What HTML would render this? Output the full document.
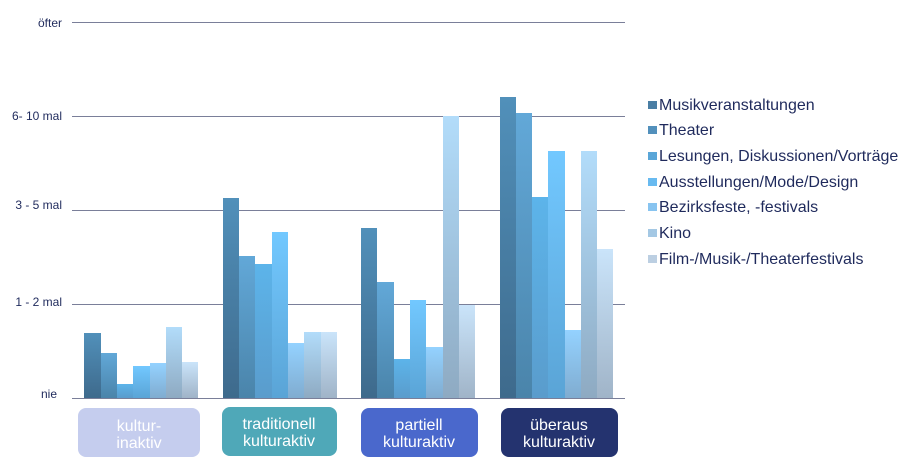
<!DOCTYPE html>
<html><head><meta charset="utf-8"><style>
body{margin:0;background:#fff;}
svg{display:block;font-family:"Liberation Sans",sans-serif;}
</style></head><body>
<svg width="907" height="465" viewBox="0 0 907 465">
<defs>
<linearGradient id="g1" x1="0" y1="0" x2="0" y2="1"><stop offset="0" stop-color="#5190ba"/><stop offset="1" stop-color="#3e6a8c"/></linearGradient>
<linearGradient id="g2" x1="0" y1="0" x2="0" y2="1"><stop offset="0" stop-color="#62a8d8"/><stop offset="1" stop-color="#4a84aa"/></linearGradient>
<linearGradient id="g3" x1="0" y1="0" x2="0" y2="1"><stop offset="0" stop-color="#5cb4ea"/><stop offset="1" stop-color="#5a9ccc"/></linearGradient>
<linearGradient id="g4" x1="0" y1="0" x2="0" y2="1"><stop offset="0" stop-color="#72c8ff"/><stop offset="1" stop-color="#5aa4d6"/></linearGradient>
<linearGradient id="g5" x1="0" y1="0" x2="0" y2="1"><stop offset="0" stop-color="#94d2ff"/><stop offset="1" stop-color="#80acd0"/></linearGradient>
<linearGradient id="g6" x1="0" y1="0" x2="0" y2="1"><stop offset="0" stop-color="#b2dcfa"/><stop offset="1" stop-color="#8eaac2"/></linearGradient>
<linearGradient id="g7" x1="0" y1="0" x2="0" y2="1"><stop offset="0" stop-color="#cae4fa"/><stop offset="1" stop-color="#a0b4c8"/></linearGradient>
</defs>
<g stroke="#7a7f99" stroke-width="1">
<line x1="72" y1="22.5" x2="625" y2="22.5"/>
<line x1="72" y1="116.5" x2="625" y2="116.5"/>
<line x1="72" y1="210.5" x2="625" y2="210.5"/>
<line x1="72" y1="304.5" x2="625" y2="304.5"/>
</g>
<g font-size="12" fill="#1f2a5c" text-anchor="end">
<text x="62" y="27">öfter</text>
<text x="62" y="120">6- 10  mal</text>
<text x="62" y="209">3 - 5 mal</text>
<text x="62" y="306">1 - 2 mal</text>
<text x="57" y="398">nie</text>
</g>
<g>
<rect x="84" y="333" width="17" height="65" fill="url(#g1)"/>
<rect x="101" y="353" width="16" height="45" fill="url(#g2)"/>
<rect x="117" y="384" width="16" height="14" fill="url(#g3)"/>
<rect x="133" y="366" width="17" height="32" fill="url(#g4)"/>
<rect x="150" y="363" width="16" height="35" fill="url(#g5)"/>
<rect x="166" y="327" width="16" height="71" fill="url(#g6)"/>
<rect x="182" y="362" width="16" height="36" fill="url(#g7)"/>
<rect x="223" y="198" width="16" height="200" fill="url(#g1)"/>
<rect x="239" y="256" width="16" height="142" fill="url(#g2)"/>
<rect x="255" y="264" width="17" height="134" fill="url(#g3)"/>
<rect x="272" y="232" width="16" height="166" fill="url(#g4)"/>
<rect x="288" y="343" width="16" height="55" fill="url(#g5)"/>
<rect x="304" y="332" width="17" height="66" fill="url(#g6)"/>
<rect x="321" y="332" width="16" height="66" fill="url(#g7)"/>
<rect x="361" y="228" width="16" height="170" fill="url(#g1)"/>
<rect x="377" y="282" width="17" height="116" fill="url(#g2)"/>
<rect x="394" y="359" width="16" height="39" fill="url(#g3)"/>
<rect x="410" y="300" width="16" height="98" fill="url(#g4)"/>
<rect x="426" y="347" width="17" height="51" fill="url(#g5)"/>
<rect x="443" y="116" width="16" height="282" fill="url(#g6)"/>
<rect x="459" y="305" width="16" height="93" fill="url(#g7)"/>
<rect x="500" y="97" width="16" height="301" fill="url(#g1)"/>
<rect x="516" y="113" width="16" height="285" fill="url(#g2)"/>
<rect x="532" y="197" width="16" height="201" fill="url(#g3)"/>
<rect x="548" y="151" width="17" height="247" fill="url(#g4)"/>
<rect x="565" y="330" width="16" height="68" fill="url(#g5)"/>
<rect x="581" y="151" width="16" height="247" fill="url(#g6)"/>
<rect x="597" y="249" width="16" height="149" fill="url(#g7)"/>
</g>
<line x1="72" y1="398.5" x2="625" y2="398.5" stroke="#7a7f99"/>
<rect x="78" y="408" width="122" height="49" rx="8" fill="#c5cdee"/>
<rect x="222" y="407" width="115" height="49" rx="8" fill="#4fa8b8"/>
<rect x="361" y="408" width="117" height="49" rx="8" fill="#4a68cc"/>
<rect x="501" y="408" width="117" height="49" rx="8" fill="#24336f"/>
<g font-size="16" fill="#fff" text-anchor="middle">
<text x="139" y="431">kultur-</text><text x="139" y="448">inaktiv</text>
<text x="279" y="429">traditionell</text><text x="279" y="446">kulturaktiv</text>
<text x="419" y="430">partiell</text><text x="419" y="447">kulturaktiv</text>
<text x="559" y="430">überaus</text><text x="559" y="447">kulturaktiv</text>
</g>
<g font-size="16" fill="#1f2a5c">
<rect x="648" y="101" width="9" height="8" fill="#4a7ea4"/><text x="659" y="110">Musikveranstaltungen</text>
<rect x="648" y="126" width="9" height="8" fill="#5290bc"/><text x="659" y="135">Theater</text>
<rect x="648" y="152" width="9" height="8" fill="#5aa6d8"/><text x="659" y="161">Lesungen, Diskussionen/Vorträge</text>
<rect x="648" y="178" width="9" height="8" fill="#68baf0"/><text x="659" y="187">Ausstellungen/Mode/Design</text>
<rect x="648" y="203" width="9" height="8" fill="#88c4f0"/><text x="659" y="212">Bezirksfeste, -festivals</text>
<rect x="648" y="229" width="9" height="8" fill="#a4c8e4"/><text x="659" y="238">Kino</text>
<rect x="648" y="255" width="9" height="8" fill="#bccfe2"/><text x="659" y="264">Film-/Musik-/Theaterfestivals</text>
</g>
</svg>
</body></html>
